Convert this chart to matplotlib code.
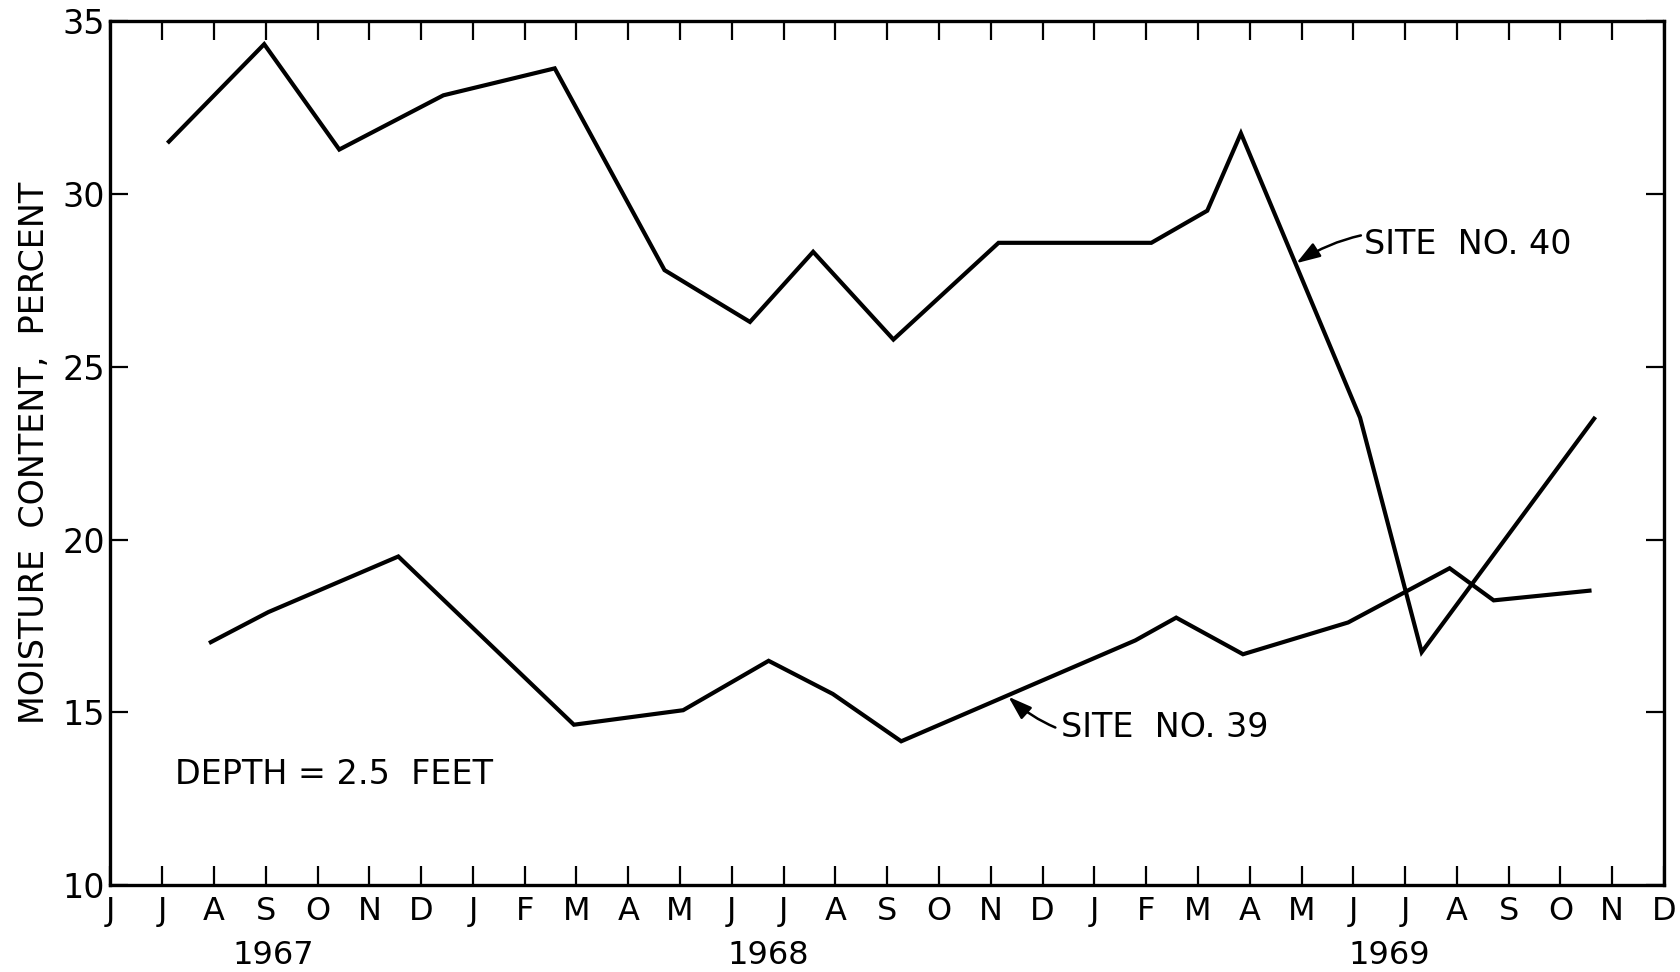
import matplotlib
matplotlib.use('Agg')
import matplotlib.pyplot as plt

# month ticks from June 1967 to December 1969
months = ['J', 'J', 'A', 'S', 'O', 'N', 'D',
          'J', 'F', 'M', 'A', 'M', 'J', 'J', 'A', 'S', 'O', 'N', 'D',
          'J', 'F', 'M', 'A', 'M', 'J', 'J', 'A', 'S', 'O', 'N', 'D']
years = ['1967', '1968', '1969']
year_pos = [3.14, 12.71, 24.69]

# x = months since June 1967, y = moisture content in percent
site40_x = [1.13, 2.97, 4.42, 6.43, 8.58, 10.70, 12.35, 13.57, 15.12,
            17.15, 20.10, 21.18, 21.83, 24.13, 25.32, 28.65]
site40_y = [31.52, 34.34, 31.29, 32.86, 33.64, 27.80, 26.30, 28.33, 25.79,
            28.59, 28.59, 29.52, 31.76, 23.53, 16.74, 23.50]

site39_x = [1.94, 3.05, 5.56, 8.95, 11.06, 12.71, 13.95, 15.27, 19.79,
            20.58, 21.87, 23.90, 25.86, 26.71, 28.56]
site39_y = [17.03, 17.90, 19.51, 14.64, 15.06, 16.49, 15.53, 14.16, 17.08,
            17.74, 16.68, 17.60, 19.17, 18.24, 18.52]

yticks = [10, 15, 20, 25, 30, 35]


def main():
    plt.rcParams['font.family'] = ['DejaVu Sans']
    fig = plt.figure(figsize=(16.8, 9.72), dpi=100)
    ax = fig.add_axes([0.0657, 0.0895, 0.9248, 0.8885])

    ax.plot(site40_x, site40_y, color='black', lw=3.0, solid_joinstyle='miter')
    ax.plot(site39_x, site39_y, color='black', lw=3.0, solid_joinstyle='miter')

    ax.set_xlim(0, len(months) - 1)
    ax.set_ylim(10, 35)
    ax.set_xticks(range(len(months)))
    ax.set_xticklabels(months, fontsize=23)
    ax.set_yticks(yticks)
    ax.set_yticklabels([str(v) for v in yticks], fontsize=24)

    ax.tick_params(axis='x', direction='in', length=14, width=1.6, pad=8,
                   top=True)
    ax.tick_params(axis='y', direction='in', length=13, width=1.6, pad=4,
                   right=True)
    for s in ax.spines.values():
        s.set_linewidth(2.4)

    ax.set_ylabel('MOISTURE  CONTENT,  PERCENT', fontsize=24)
    ax.yaxis.set_label_coords(-0.038, 0.5)

    for yr, xp in zip(years, year_pos):
        ax.text(xp, -0.082, yr, fontsize=23, ha='center', va='center',
                transform=ax.get_xaxis_transform())

    ax.text(1.24, 13.2, 'DEPTH = 2.5  FEET', fontsize=24, va='center')

    ax.annotate('SITE  NO. 40', xy=(22.9, 28.0), xytext=(24.2, 28.55),
                fontsize=24, va='center', ha='left',
                arrowprops=dict(arrowstyle='-|>,head_length=0.6,head_width=0.2',
                                color='black', lw=1.8, shrinkA=0, shrinkB=0,
                                connectionstyle='arc3,rad=0.25'))
    ax.annotate('SITE  NO. 39', xy=(17.34, 15.45), xytext=(18.35, 14.55),
                fontsize=24, va='center', ha='left',
                arrowprops=dict(arrowstyle='-|>,head_length=0.6,head_width=0.2',
                                color='black', lw=1.8, shrinkA=2, shrinkB=0,
                                connectionstyle='arc3,rad=-0.3'))

    fig.savefig('out.png', dpi=100, facecolor='white')


if __name__ == "__main__":
    main()
